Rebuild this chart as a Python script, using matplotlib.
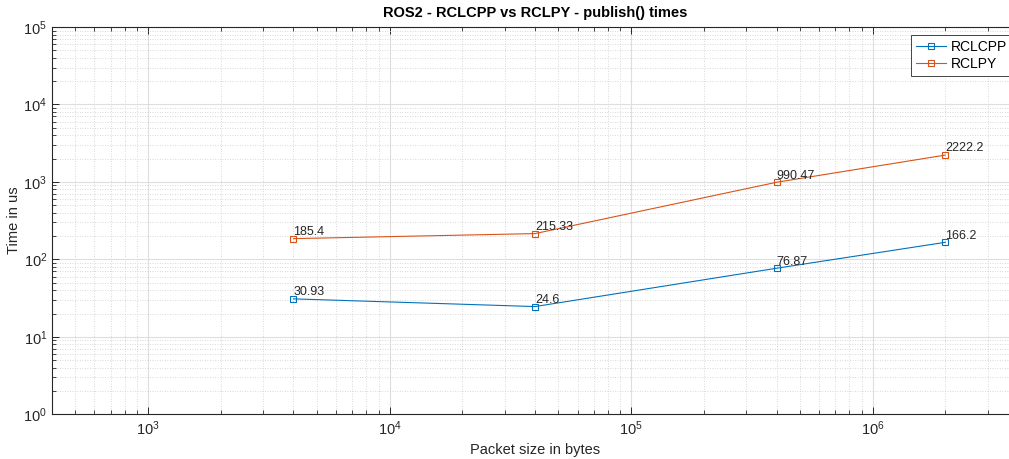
import numpy as np
import matplotlib.pyplot as plt
from matplotlib.ticker import LogLocator, NullFormatter

plt.rcParams['font.family'] = ['Liberation Sans', 'DejaVu Sans']

sizes = [4000, 40000, 400000, 2000000]
rclcpp = [30.93, 24.6, 76.87, 166.2]
rclpy = [185.4, 215.33, 990.47, 2222.2]
labels_cpp = ['30.93', '24.6', '76.87', '166.2']
labels_py = ['185.4', '215.33', '990.47', '2222.2']

blue = (0, 0.447, 0.741)
orange = (0.85, 0.325, 0.098)
dark = (0.15, 0.15, 0.15)

fig = plt.figure(figsize=(10.09, 4.59), dpi=100)
ax = fig.add_axes([0.0515, 0.0974, 0.9575, 0.8437])

ax.loglog(sizes, rclcpp, color=blue, lw=0.8, marker='s', ms=4.5,
          mfc='none', mew=0.8, label='RCLCPP')
ax.loglog(sizes, rclpy, color=orange, lw=0.8, marker='s', ms=4.5,
          mfc='none', mew=0.8, label='RCLPY')

for x, y, s in zip(sizes, rclcpp, labels_cpp):
    ax.text(x, y * 1.02, s, ha='left', va='bottom', fontsize=9, color=dark)
for x, y, s in zip(sizes, rclpy, labels_py):
    ax.text(x, y * 1.02, s, ha='left', va='bottom', fontsize=9, color=dark)

ax.set_xlim(400, 4e6)
ax.set_ylim(1, 1e5)

ax.xaxis.set_major_locator(LogLocator(base=10, numticks=10))
ax.xaxis.set_minor_locator(LogLocator(base=10, subs=np.arange(2, 10), numticks=20))
ax.yaxis.set_major_locator(LogLocator(base=10, numticks=10))
ax.yaxis.set_minor_locator(LogLocator(base=10, subs=np.arange(2, 10), numticks=20))
ax.xaxis.set_minor_formatter(NullFormatter())
ax.yaxis.set_minor_formatter(NullFormatter())

ax.grid(True, which='major', color=(0.87, 0.87, 0.87), lw=0.8, ls='-')
ax.grid(True, which='minor', color=(0.8, 0.8, 0.8), lw=0.6, ls=(0, (1, 2)))
ax.set_axisbelow(True)

ax.tick_params(which='both', direction='in', top=True, right=True,
               colors=dark, labelsize=10.5)
ax.tick_params(which='major', length=5, width=0.7)
ax.tick_params(which='minor', length=3, width=0.6)
for sp in ax.spines.values():
    sp.set_color(dark)
    sp.set_linewidth(0.8)

ax.set_title('ROS2 - RCLCPP vs RCLPY - publish() times', fontsize=10.5,
             fontweight='bold', color='black', pad=7)
ax.set_xlabel('Packet size in bytes', fontsize=10.5, color=dark)
ax.set_ylabel('Time in us', fontsize=10.5, color=dark, labelpad=2)

leg = ax.legend(loc='upper left', bbox_to_anchor=(0.889, 0.979), fontsize=10,
                frameon=True, fancybox=False, edgecolor=dark, framealpha=1,
                handlelength=2.2, handletextpad=0.3, borderpad=0.35,
                borderaxespad=0, labelspacing=0.2)
leg.get_frame().set_linewidth(0.6)

fig.savefig('out.png', dpi=100)
